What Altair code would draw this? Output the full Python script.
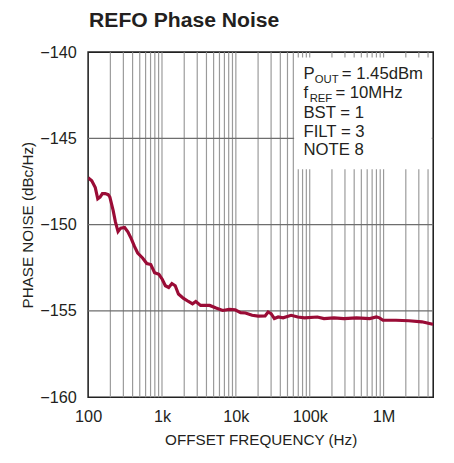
import altair as alt
import pandas as pd

# ---- data ----
freq_hz = [100, 112, 125, 135, 145, 156, 170, 187, 197, 218, 234, 254, 276, 312, 345,
           382, 424, 469, 546, 623, 705, 794, 909, 1007, 1112, 1232, 1362, 1510, 1670,
           1940, 2280, 2590, 2870, 3330, 4420, 5400, 6630, 8150, 9780, 11600, 13500,
           16600, 20000, 24900, 27300, 30000, 33200, 37400, 43600, 56000, 69000, 85000,
           127000, 156000, 213000, 290000, 430000, 650000, 800000, 880000, 980000,
           1470000, 2200000, 3300000, 4600000, 4700000]
noise_dbc = [-147.28, -147.46, -147.85, -148.5, -148.4, -148.2, -148.2, -148.26, -148.4,
             -149.17, -149.84, -150.4, -150.2, -150.16, -150.41, -150.79, -151.26, -151.64,
             -151.93, -152.25, -152.31, -152.78, -152.88, -153.16, -153.54, -153.64,
             -153.41, -153.54, -154.02, -154.26, -154.45, -154.59, -154.45, -154.68,
             -154.68, -154.83, -154.97, -154.91, -154.93, -155.1, -155.12, -155.25, -155.3,
             -155.29, -155.06, -155.16, -155.44, -155.35, -155.4, -155.25, -155.35, -155.4,
             -155.35, -155.44, -155.4, -155.44, -155.4, -155.44, -155.35, -155.4, -155.54,
             -155.54, -155.57, -155.63, -155.77, -155.8]

x_tick_values = [100, 1000, 10000, 100000, 1000000]
x_tick_labels = ["100", "1k", "10k", "100k", "1M"]
y_tick_values = [-160, -155, -150, -145, -140]
x_grid_values = [200, 300, 400, 500, 600, 700, 800, 900,
                 1000, 2000, 3000, 4000, 5000, 6000, 7000, 8000, 9000,
                 10000, 20000, 30000, 40000, 50000, 60000, 70000, 80000, 90000,
                 100000, 200000, 300000, 400000, 500000, 600000, 700000, 800000, 900000,
                 1000000, 2000000, 3000000, 4000000]
y_grid_values = [-155, -150, -145]

title_text = "REFO Phase Noise"
x_title = "OFFSET FREQUENCY (Hz)"
y_title = "PHASE NOISE (dBc/Hz)"

FONT = "Liberation Sans, Arial, sans-serif"
INK = "#231f20"

curve = pd.DataFrame({"freq": freq_hz, "noise": noise_dbc})
x_scale = alt.Scale(type="log", domain=[100, 4700000], nice=False)
y_scale = alt.Scale(domain=[-160, -140], nice=False, zero=False)

x_label_expr = "".join(
    f"round(datum.value) == {v} ? '{l}' : " for v, l in zip(x_tick_values, x_tick_labels)
) + "''"
y_label_expr = "'\u2212' + format(abs(datum.value), 'd')"

x_axis = alt.Axis(
    values=x_tick_values, labelExpr=x_label_expr, grid=False, ticks=False, tickSize=0,
    domain=False, labelPadding=12, labelFont=FONT, labelFontSize=16.5, labelColor=INK,
    title=x_title, titleFont=FONT, titleFontSize=15.5, titleFontWeight="normal",
    titleColor=INK, titleX=175.5, titleY=48, titleBaseline="alphabetic",
    titleAlign="center", labelFlush=False, labelOverlap=False)
y_axis = alt.Axis(
    values=y_tick_values, labelExpr=y_label_expr, grid=False, ticks=False, tickSize=0,
    domain=False, labelPadding=12, labelFont=FONT, labelFontSize=16.5, labelColor=INK,
    labelBaseline="middle",
    title=y_title, titleFont=FONT, titleFontSize=15.5, titleFontWeight="normal",
    titleColor=INK, titleX=-57, titleY=175.5, titleAngle=-90,
    titleBaseline="alphabetic", titleAlign="center", labelFlush=False,
    labelOverlap=False)

vgrid = alt.Chart(pd.DataFrame({"g": x_grid_values})).mark_rule(
    color="#9a9a9a", strokeWidth=1.2
).encode(x=alt.X("g:Q", scale=x_scale, axis=x_axis))

hgrid = alt.Chart(pd.DataFrame({"h": y_grid_values})).mark_rule(
    color="#6e6e6e", strokeWidth=1.3
).encode(y=alt.Y("h:Q", scale=y_scale, axis=y_axis))

one = pd.DataFrame({"k": [0]})
box = alt.Chart(one).mark_rect(fill="white").encode(
    x=alt.value(209.5), x2=alt.value(349.5), y=alt.value(5.5), y2=alt.value(119)
)

line = alt.Chart(curve).mark_line(color="#9a0c36", strokeWidth=3.2, clip=True).encode(
    x=alt.X("freq:Q", scale=x_scale, axis=x_axis),
    y=alt.Y("noise:Q", scale=y_scale, axis=y_axis),
)


def txt(s, x, y, size=17, weight="normal"):
    return alt.Chart(pd.DataFrame({"t": [s]})).mark_text(
        align="left", baseline="alphabetic", font=FONT, fontSize=size, color=INK,
        fontWeight=weight
    ).encode(x=alt.value(x), y=alt.value(y), text="t:N")


legend_rows = [
    [("P", 219, 27.5, 17), ("OUT", 230.5, 31, 11.5), ("= 1.45dBm", 258, 27.5, 17)],
    [("f", 219, 47, 17), ("REF", 225.3, 50.5, 11.5), ("= 10MHz", 251.5, 47, 17)],
    [("BST = 1", 219, 66.5, 17)],
    [("FILT = 3", 219, 86, 17)],
    [("NOTE 8", 219, 104.5, 17)],
]
texts = [txt(s, x, y, fs) for row in legend_rows for (s, x, y, fs) in row]
title_mark = txt(title_text, 1, -26, 21.5, "bold")

chart = alt.layer(vgrid, hgrid, box, line, *texts, title_mark).properties(
    width=351, height=351,
    autosize=alt.AutoSizeParams(type="none"),
    padding={"left": 81.5, "top": 41, "right": 13, "bottom": 63},
).configure_view(stroke="#222", strokeWidth=1.6)

chart.save("out.html", embed_options={"renderer": "svg", "actions": False})
